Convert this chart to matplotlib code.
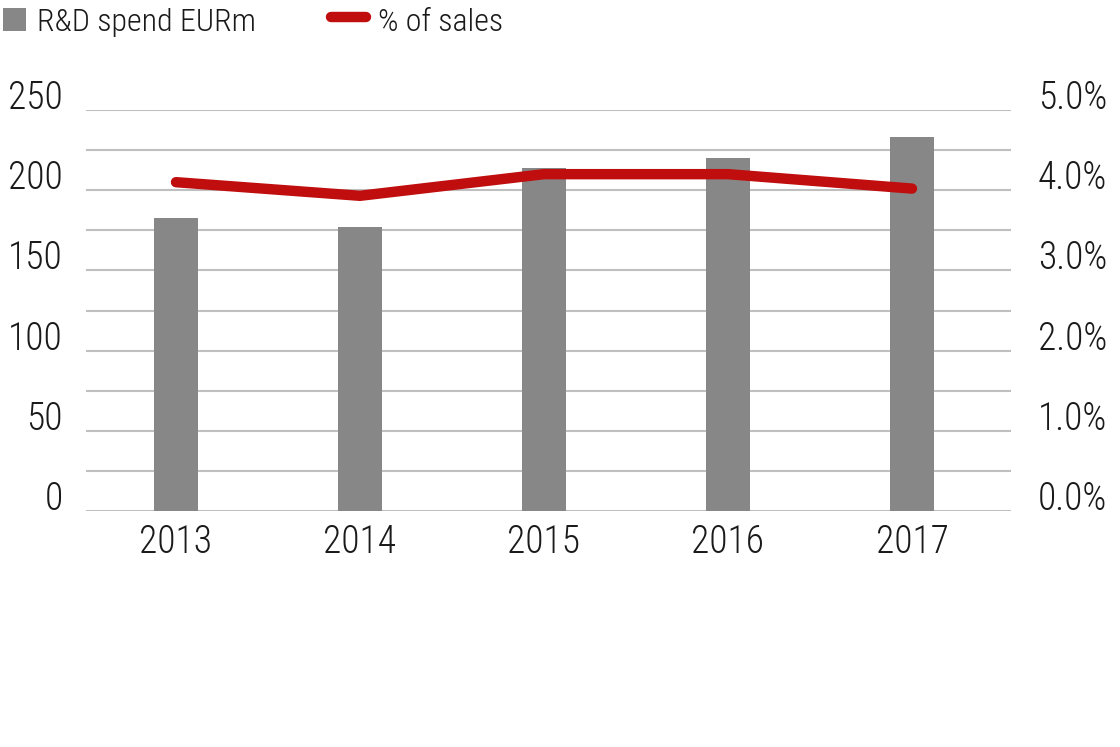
import matplotlib
matplotlib.use("Agg")
import matplotlib.pyplot as plt
import matplotlib.transforms as mtransforms
from matplotlib.lines import Line2D
from matplotlib.patches import Rectangle

years = ["2013", "2014", "2015", "2016", "2017"]
rd_spend = [182.5, 177.2, 214.0, 219.9, 233.4]
pct_sales = [4.10, 3.93, 4.20, 4.20, 4.02]
left_ticks = [0, 50, 100, 150, 200, 250]
right_ticks = [0.0, 1.0, 2.0, 3.0, 4.0, 5.0]
grid_vals = list(range(0, 251, 25))
legend_labels = ["R&D spend EURm", "% of sales"]

FONT = dict(family=["Roboto Condensed", "DejaVu Sans"], weight="light", color="#1a1a1a")
BAR_C = "#878787"
LINE_C = "#c00d0d"
GRID_C = "#bfbfbf"
FS = 27
FS_LEG = 23

W, H = 1120, 747
fig = plt.figure(figsize=(W/100, H/100), dpi=100)
ax = fig.add_axes([86/W, 1-511/H, 925/W, 401/H])
ax2 = ax.twinx()

x = list(range(len(years)))
ax.bar(x, rd_spend, width=0.24, color=BAR_C, zorder=2)
ax.set_ylim(0, 250)
ax.set_xlim(-0.489, len(years) - 1 + 0.538)
for v in grid_vals:
    ax.axhline(v, color=GRID_C, lw=1.5, zorder=1)

ax2.plot(x, pct_sales, color=LINE_C, lw=7.5, solid_capstyle="round",
         solid_joinstyle="round", zorder=3)
ax2.set_ylim(0, 5)

for a in (ax, ax2):
    for s in a.spines.values():
        s.set_visible(False)
    a.set_yticks([])
ax.set_zorder(1)
ax2.set_zorder(2)
ax.patch.set_visible(False)

ax.set_xticks(x)
ax.set_xticklabels(years, fontsize=FS, **FONT)
ax.tick_params(axis="x", length=0, pad=9)

off = mtransforms.ScaledTranslation(0, 1/100, fig.dpi_scale_trans)
trans_l = mtransforms.blended_transform_factory(ax.transAxes, ax.transData) + off
for v in left_ticks:
    ax.text(-0.0249, v, f"{v}", transform=trans_l, ha="right", va="baseline",
            fontsize=FS, **FONT)
trans_r = mtransforms.blended_transform_factory(ax2.transAxes, ax2.transData) + off
for v in right_ticks:
    ax2.text(1.1038, v, f"{v:.1f}%", transform=trans_r, ha="right", va="baseline",
             fontsize=FS, **FONT)

# legend (figure pixel placement)
fig.add_artist(Rectangle((3/W, 1-31/H), 23/W, 23/H, transform=fig.transFigure,
                         facecolor=BAR_C, edgecolor="none"))
fig.text(37/W, 1-31/H, legend_labels[0], ha="left", va="baseline", fontsize=FS_LEG, **FONT)
fig.add_artist(Line2D([331/W, 366/W], [1-17/H, 1-17/H], transform=fig.transFigure,
                      color=LINE_C, lw=7.5, solid_capstyle="round"))
fig.text(378/W, 1-31/H, legend_labels[1], ha="left", va="baseline", fontsize=FS_LEG, **FONT)

fig.savefig("out.png", dpi=100)
